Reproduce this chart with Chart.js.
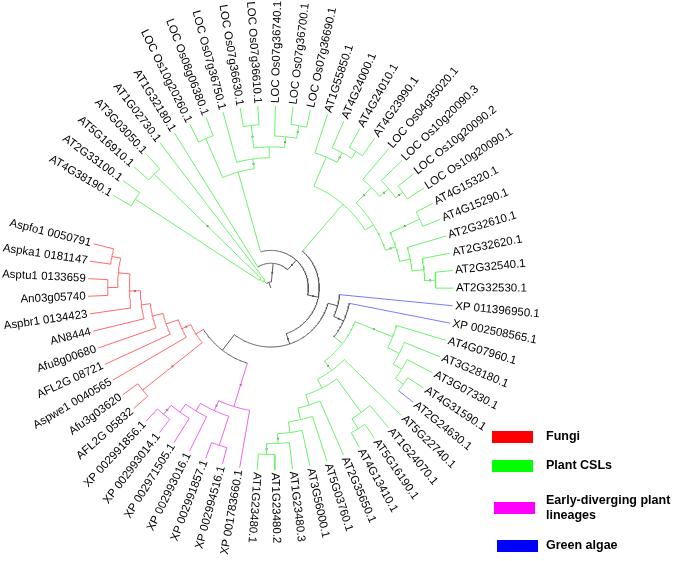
<!DOCTYPE html>
<html>
<head>
<meta charset="utf-8">
<script src="https://cdn.jsdelivr.net/npm/chart.js@4.4.0/dist/chart.umd.min.js"></script>
<style>
  html, body { margin: 0; padding: 0; background: #fff; }
  #wrap { width: 675px; height: 561px; }
</style>
</head>
<body>
<div id="wrap"><canvas id="treeChart"></canvas></div>
<script>
// Tree topology (Newick), branch lengths in depth units; tips are aligned at TIP_DEPTH.
// "*" marks nodes that carry a support dot on their branch.
const TIP_DEPTH = 185;

const tlComb = "(((AT4G38190.1,AT2G33100.1):150,(AT5G16910.1,AT3G03050.1)*:151):4,AT1G02730.1):4";
const locClade = "((LOC Os10g20260.1,LOC Os08g06380.1):43,(LOC Os07g36750.1,((LOC Os07g36630.1,LOC Os07g36610.1)*:23,(LOC Os07g36740.1,(LOC Os07g36700.1,LOC Os07g36690.1)*:13)*:11):11)*:10):84";
const trClade = "((AT1G55850.1,(AT4G24000.1,(AT4G24010.1,AT4G23990.1):8)*:11):32,((LOC Os04g35020.1,(LOC Os10g20090.3,(LOC Os10g20090.2,LOC Os10g20090.1)*:9)*:12)*:22,((AT4G15320.1,AT4G15290.1)*:33,(AT2G32610.1,(AT2G32620.1,(AT2G32540.1,AT2G32530.1)*:11):12):11)*:11):10):63";
const lowerCsl = "((AT4G07960.1,(AT3G28180.1,(AT3G07330.1,(AT4G31590.1,AT2G24630.1):10):10):13)*:41,(AT5G22740.1,((AT1G24070.1,(AT5G16190.1,AT4G13410.1):12):42,(AT2G35650.1,(AT5G03760.1,(AT3G56000.1,(AT1G23480.3,(AT1G23480.2,AT1G23480.1)*:11)*:10):11):12):11):10)*:12):11";
const algaeTree = "(XP 011396950.1,(XP 002508565.1," + lowerCsl + ")*:11):10";
const earlyTree = "(XP 001783660.1,((XP 002994516.1,XP 002991857.1):31,(XP 002993016.1,(XP 002971505.1,(XP 002993014.1,XP 002991856.1)*:12):10):9)*:11)*:46";
const fungiTree = "((AFL2G 05832,Afu3g03620)*:77,(Aspwe1 0040565,(AFL2G 08721,(Afu8g00680,(AN8444,(Aspbr1 0134423,((An03g05740,Asptu1 0133659):10,(Aspka1 0181147,Aspfo1 0050791):9):12)*:11):9):11):13)*:10):9";

const treeNewick = "(" + tlComb + ",(AT1G32180.1,(" + locClade + ",(" + trClade + ",(" + algaeTree +
    ",(" + earlyTree + "," + fungiTree + "):20)*:11)*:11)*:13)*:19):6;";

// Leaf groups
const fungiLeaves = ['AFL2G 05832', 'Afu3g03620', 'Aspwe1 0040565', 'AFL2G 08721', 'Afu8g00680', 'AN8444',
    'Aspbr1 0134423', 'An03g05740', 'Asptu1 0133659', 'Aspka1 0181147', 'Aspfo1 0050791'];
const earlyLeaves = ['XP 001783660.1', 'XP 002994516.1', 'XP 002991857.1', 'XP 002993016.1',
    'XP 002971505.1', 'XP 002993014.1', 'XP 002991856.1'];
const algaeLeaves = ['XP 011396950.1', 'XP 002508565.1'];
const algaeTintedTips = ['AT2G24630.1'];

// Legend
const legendLabels = [['Fungi'], ['Plant CSLs'], ['Early-diverging plant', 'lineages'], ['Green algae']];
const legendColors = ['#ff0000', '#00ff00', '#ff00ff', '#0000ff'];

// Layout
const START_ANGLE = 210.5;   // degrees, clockwise from 3 o'clock
const STEP_ANGLE = 5.54;
const branchColors = { fungi: '#ff6a6a', plant: '#6cf26c', early: '#f060f0', algae: '#7a7aff', mixed: '#5a5a5a' };

function parseNewick(s) {
    let i = 0;
    function node() {
        const n = { children: [], name: '', len: 0, dot: false };
        if (s[i] === '(') {
            i++;
            n.children.push(node());
            while (s[i] === ',') { i++; n.children.push(node()); }
            i++;
        }
        let name = '';
        while (i < s.length && !',():;'.includes(s[i])) name += s[i++];
        name = name.trim();
        if (name === '*') n.dot = true; else n.name = name;
        if (s[i] === ':') {
            i++;
            let num = '';
            while (i < s.length && !',();'.includes(s[i])) num += s[i++];
            n.len = parseFloat(num);
        }
        return n;
    }
    return node();
}

function groupOf(name) {
    if (fungiLeaves.includes(name)) return 'fungi';
    if (earlyLeaves.includes(name)) return 'early';
    if (algaeLeaves.includes(name)) return 'algae';
    return 'plant';
}

function layoutTree(root) {
    const nodes = [];
    let leafIdx = 0;
    (function walk(n, parentDepth) {
        n.parentDepth = parentDepth;
        if (!n.children.length) {
            n.depth = TIP_DEPTH;
            n.angle = START_ANGLE + STEP_ANGLE * leafIdx++;
            n.group = groupOf(n.name);
            n.color = algaeTintedTips.includes(n.name) ? branchColors.algae : branchColors[n.group];
        } else {
            n.depth = parentDepth + n.len;
            n.children.forEach(c => walk(c, n.depth));
            const first = n.children[0], last = n.children[n.children.length - 1];
            n.angle = (first.angle + last.angle) / 2;
            const groups = new Set(n.children.map(c => c.group));
            n.group = groups.size === 1 ? [...groups][0] : 'mixed';
            n.color = branchColors[n.group];
        }
        nodes.push(n);
    })(root, 0);
    return nodes;
}

const polar = (r, deg) => {
    const a = deg * Math.PI / 180;
    return { x: r * Math.cos(a), y: -r * Math.sin(a) };
};

function arcPoints(r, a0, a1) {
    const n = Math.max(2, Math.ceil(Math.abs(a1 - a0) / 1) + 1);
    const pts = [];
    for (let k = 0; k < n; k++) pts.push(polar(r, a0 + (a1 - a0) * k / (n - 1)));
    return pts;
}

function buildDatasets(nodes) {
    const datasets = [];
    const line = (data, color) => ({
        data, borderColor: color, backgroundColor: color, borderWidth: 1,
        showLine: true, pointRadius: 0, fill: false, clip: false
    });
    nodes.forEach(n => {
        datasets.push(line([polar(n.parentDepth, n.angle), polar(n.depth, n.angle)], n.color));
        if (n.children.length) {
            const first = n.children[0], last = n.children[n.children.length - 1];
            datasets.push(line(arcPoints(n.depth, first.angle, last.angle), n.color));
        }
    });
    const dots = nodes.filter(n => n.dot).map(n => polar((n.parentDepth + n.depth) / 2, n.angle));
    datasets.push({
        data: dots, showLine: false, pointStyle: 'rect', pointRadius: 1.2,
        backgroundColor: '#333', borderWidth: 0, clip: false
    });
    return datasets;
}

// Leaf labels and legend
function makeLabelsPlugin(leaves) {
    return {
        id: 'treeLabels',
        afterDatasetsDraw(chart) {
            const { ctx, scales: { x, y } } = chart;
            ctx.save();
            ctx.fillStyle = '#000';
            ctx.font = '11.5px "Liberation Sans", Arial, sans-serif';
            ctx.textBaseline = 'middle';
            leaves.forEach(leaf => {
                const p = polar(leaf.depth + 2.5, leaf.angle);
                const a = ((leaf.angle % 360) + 360) % 360;
                const flip = a > 97 && a < 268;
                ctx.save();
                ctx.translate(x.getPixelForValue(p.x), y.getPixelForValue(p.y));
                ctx.rotate((flip ? a + 180 : a) * Math.PI / 180);
                ctx.textAlign = flip ? 'right' : 'left';
                ctx.fillText(leaf.name, 0, 0);
                ctx.restore();
            });

            // legend
            const swatches = [[492, 431], [492, 460], [494, 502], [497, 540]];
            const textY = [[436.5], [466], [501, 516], [546]];
            ctx.font = 'bold 12.5px "Liberation Sans", Arial, sans-serif';
            ctx.textAlign = 'left';
            legendLabels.forEach((lines, i) => {
                ctx.fillStyle = legendColors[i];
                ctx.fillRect(swatches[i][0], swatches[i][1], 41, 12);
                ctx.fillStyle = '#000';
                lines.forEach((t, j) => ctx.fillText(t, 546, textY[i][j]));
            });
            ctx.restore();
        }
    };
}

function renderTree(canvasId) {
    const nodes = layoutTree(parseNewick(treeNewick));
    const leaves = nodes.filter(n => !n.children.length);
    new Chart(document.getElementById(canvasId), {
        type: 'scatter',
        data: { datasets: buildDatasets(nodes) },
        options: {
            responsive: true,
            maintainAspectRatio: false,
            animation: false,
            events: [],
            layout: { padding: 0 },
            scales: {
                x: { type: 'linear', min: -270, max: 405, display: false },
                y: { type: 'linear', min: -273, max: 288, display: false }
            },
            plugins: { legend: { display: false }, tooltip: { enabled: false } }
        },
        plugins: [makeLabelsPlugin(leaves)]
    });
}

renderTree('treeChart');
</script>
</body>
</html>
